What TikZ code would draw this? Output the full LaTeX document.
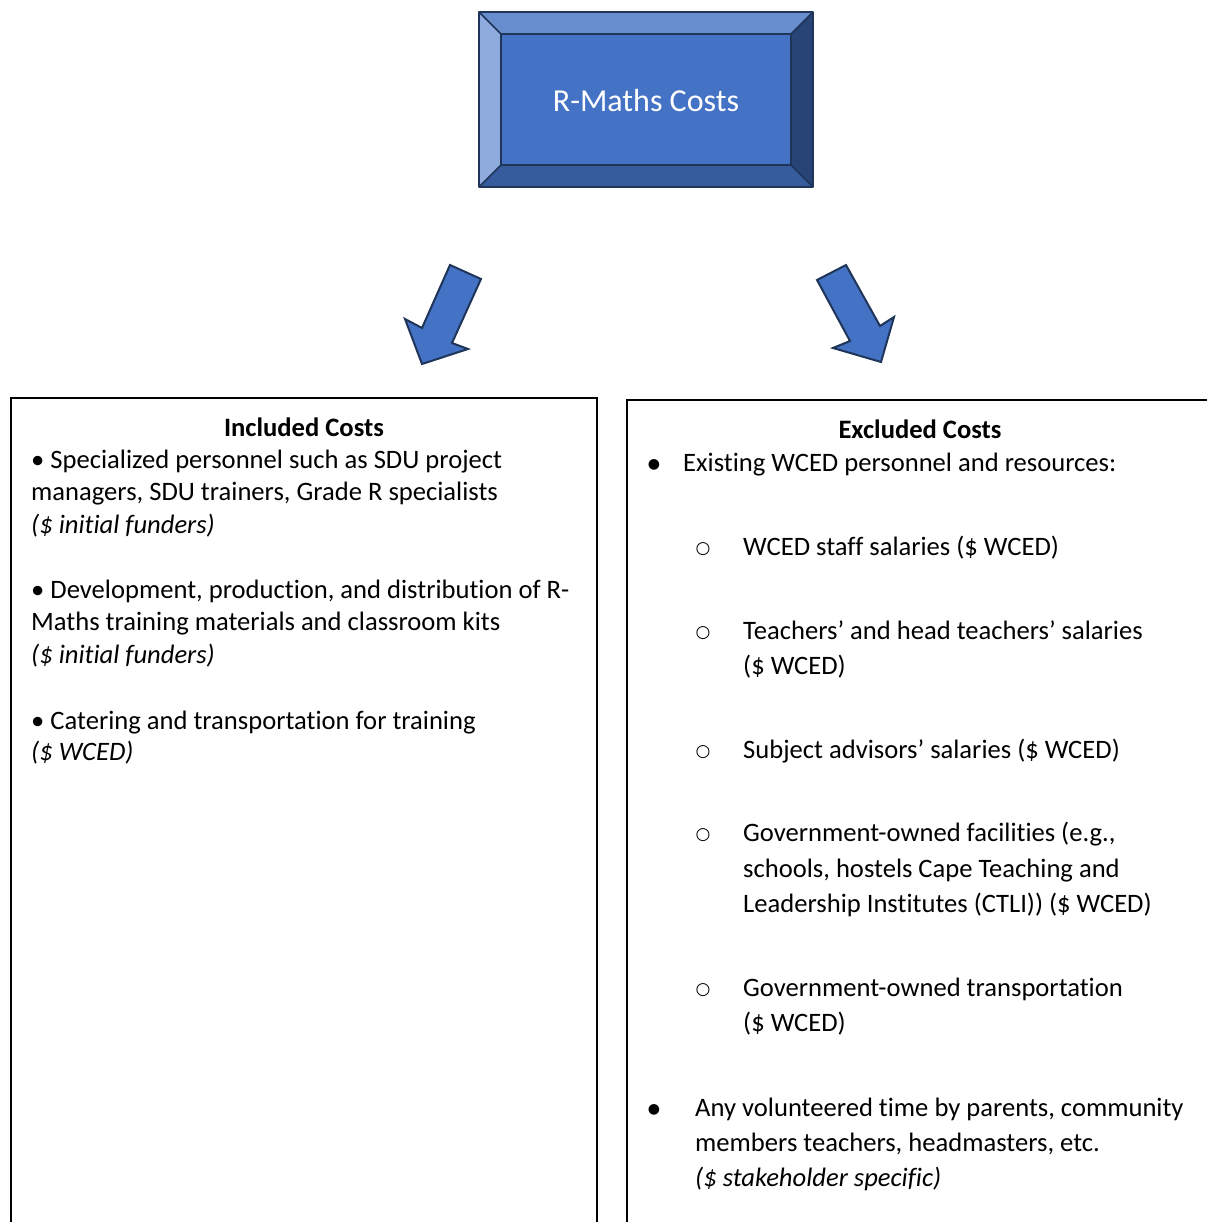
\documentclass[tikz,border=0pt]{standalone}
\usepackage{fontspec}
\setmainfont{Carlito}[Ligatures=NoCommon]
\newfontfamily\symfont{DejaVu Sans}
\definecolor{bmain}{HTML}{4472C4}
\definecolor{btop}{HTML}{698ED0}
\definecolor{bleft}{HTML}{8FAADC}
\definecolor{bbot}{HTML}{365C9E}
\definecolor{bright}{HTML}{284476}
\definecolor{bedge}{HTML}{1F3559}
\tikzset{
  bev/.style={draw=bedge, line width=1.6pt, line join=round},
  bigarrow/.style={draw=bedge, fill=bmain, line width=2pt, line join=miter},
  panel/.style={draw=black, line width=1.6pt},
  txt/.style={anchor=base west, inner sep=0pt, font=\fontsize{26.6}{30}\selectfont},
  ttl/.style={anchor=base, inner sep=0pt, font=\fontsize{26.6}{30}\selectfont\bfseries},
  itx/.style={txt, font=\fontsize{26.6}{30}\selectfont\itshape},
  hollow/.style={anchor=base, inner sep=0pt, font=\symfont\fontsize{17}{19}\selectfont},
  dot/.style={anchor=base, inner sep=0pt, font=\symfont\fontsize{14}{16}\selectfont}
}
\begin{document}
\begin{tikzpicture}[x=1pt,y=-1pt]
\useasboundingbox (0,0) rectangle (1206,1222);
% bevelled title box
\coordinate (o1) at (479,12); \coordinate (o2) at (813,12);
\coordinate (o3) at (813,187); \coordinate (o4) at (479,187);
\coordinate (i1) at (501,34); \coordinate (i2) at (791,34);
\coordinate (i3) at (791,165); \coordinate (i4) at (501,165);
\fill[btop] (o1) -- (o2) -- (i2) -- (i1) -- cycle;
\fill[bright] (o2) -- (o3) -- (i3) -- (i2) -- cycle;
\fill[bbot] (o3) -- (o4) -- (i4) -- (i3) -- cycle;
\fill[bleft] (o4) -- (o1) -- (i1) -- (i4) -- cycle;
\fill[bmain] (i1) rectangle (i3);
\draw[bev] (o1) rectangle (o3);
\draw[bev] (i1) rectangle (i3);
\draw[bev] (o1) -- (i1) (o2) -- (i2) (o3) -- (i3) (o4) -- (i4);
\node[text=white, font=\fontsize{32}{36}\selectfont] (title) at (646,101) {R-Maths Costs};
% arrows
\draw[bigarrow] (450,265) -- (481,279) -- (452,343) -- (468,349) -- (422,364) -- (405,319) -- (422,328) -- cycle;
\draw[bigarrow] (817,280) -- (846,265) -- (880,326) -- (894,317) -- (881,362) -- (833,348) -- (850,341) -- cycle;
% panels
\draw[panel] (11,1230) -- (11,398) -- (597,398) -- (597,1230);
\draw[panel] (627,1230) -- (627,400) -- (1215,400);
% left panel text
\node[ttl] (lt) at (304,436) {Included Costs};
\node[txt] (l1) at (31,468) {• Specialized personnel such as SDU project};
\node[txt] (l2) at (31,500) {managers, SDU trainers, Grade R specialists};
\node[itx] (l3) at (31,533) {(\$ initial funders)};
\node[txt] (l4) at (31,598) {• Development, production, and distribution of R-};
\node[txt] (l5) at (31,630) {Maths training materials and classroom kits};
\node[itx] (l6) at (31,663) {(\$ initial funders)};
\node[txt] (l7) at (31,729) {• Catering and transportation for training};
\node[itx] (l8) at (31,760) {(\$ WCED)};
% right panel text
\node[ttl] (rt) at (920,438) {Excluded Costs};
\node[dot] (b1) at (654,468) {●};
\node[txt] (r1) at (683,471) {Existing WCED personnel and resources:};
\node[hollow] (c1) at (703,553) {○};
\node[txt] (r2) at (743,555) {WCED staff salaries (\$ WCED)};
\node[hollow] (c2) at (703,637) {○};
\node[txt] (r3) at (743,639) {Teachers’ and head teachers’ salaries};
\node[txt] (r4) at (743,674) {(\$ WCED)};
\node[hollow] (c3) at (703,756) {○};
\node[txt] (r5) at (743,758) {Subject advisors’ salaries (\$ WCED)};
\node[hollow] (c4) at (703,839) {○};
\node[txt] (r6) at (743,841) {Government-owned facilities (e.g.,};
\node[txt] (r7) at (743,877) {schools, hostels Cape Teaching and};
\node[txt] (r8) at (743,912) {Leadership Institutes (CTLI)) (\$ WCED)};
\node[hollow] (c5) at (703,994) {○};
\node[txt] (r9) at (743,996) {Government-owned transportation};
\node[txt] (r10) at (743,1031) {(\$ WCED)};
\node[dot] (b2) at (654,1113) {●};
\node[txt] (r11) at (695,1116) {Any volunteered time by parents, community};
\node[txt] (r12) at (695,1151) {members teachers, headmasters, etc.};
\node[itx] (r13) at (695,1186) {(\$ stakeholder specific)};
\end{tikzpicture}
\end{document}
